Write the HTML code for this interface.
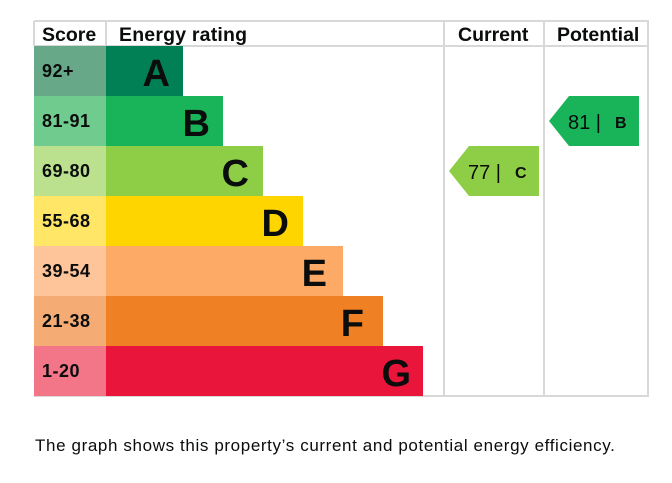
<!DOCTYPE html>
<html><head><style>
body{margin:0;background:#fff;width:672px;height:483px;overflow:hidden}
svg{position:absolute;left:0;top:0}
.c{position:absolute;left:35px;top:436px;font:17px "Liberation Sans",sans-serif;letter-spacing:0.62px;color:#0b0c0c;white-space:nowrap}
</style></head><body>
<svg width="672" height="483" font-family="Liberation Sans, sans-serif">
<g fill="#fff" stroke="#d8d8d8" stroke-width="2">
<line x1="34" y1="21" x2="649" y2="21"/>
<line x1="34" y1="46" x2="649" y2="46"/>
<line x1="34" y1="396" x2="649" y2="396"/>
<line x1="34" y1="21" x2="34" y2="46"/>
<line x1="106" y1="21" x2="106" y2="46"/>
<line x1="444" y1="21" x2="444" y2="396"/>
<line x1="544" y1="21" x2="544" y2="396"/>
<line x1="648" y1="21" x2="648" y2="396"/>
</g>
<g font-weight="bold" font-size="19.5" fill="#0b0c0c">
<text x="42" y="41">Score</text>
<text x="119" y="41" textLength="128">Energy rating</text>
<text x="458" y="41">Current</text>
<text x="557" y="41">Potential</text>
</g>
<rect x="34" y="46" width="72" height="50" fill="#66a888"/><rect x="106" y="46" width="77" height="50" fill="#008054"/>
<rect x="34" y="96" width="72" height="50" fill="#70cb8f"/><rect x="106" y="96" width="117" height="50" fill="#19b459"/>
<rect x="34" y="146" width="72" height="50" fill="#bbe08e"/><rect x="106" y="146" width="157" height="50" fill="#8dce46"/>
<rect x="34" y="196" width="72" height="50" fill="#ffe667"/><rect x="106" y="196" width="197" height="50" fill="#ffd500"/>
<rect x="34" y="246" width="72" height="50" fill="#fec59b"/><rect x="106" y="246" width="237" height="50" fill="#fcaa65"/>
<rect x="34" y="296" width="72" height="50" fill="#f4ac74"/><rect x="106" y="296" width="277" height="50" fill="#ef8023"/>
<rect x="34" y="346" width="72" height="50" fill="#f27588"/><rect x="106" y="346" width="317" height="50" fill="#e9153b"/>
<g font-weight="bold" font-size="18" fill="#0b0c0c" letter-spacing="0.5">
<text x="42" y="77">92+</text><text x="42" y="127">81-91</text><text x="42" y="177">69-80</text>
<text x="42" y="227">55-68</text><text x="42" y="277">39-54</text><text x="42" y="327">21-38</text><text x="42" y="377">1-20</text>
</g>
<g font-weight="bold" font-size="38" fill="#0b0c0c" text-anchor="end">
<text x="170" y="86">A</text><text x="210" y="136">B</text><text x="249" y="186">C</text>
<text x="289" y="236">D</text><text x="327" y="286">E</text><text x="364" y="336">F</text><text x="411" y="386">G</text>
</g>
<polygon points="449,171 469,146 539,146 539,196 469,196" fill="#8dce46"/>
<text x="468" y="179" font-size="20" fill="#0b0c0c">77 |</text>
<text x="515" y="178" font-size="16" font-weight="bold" fill="#0b0c0c">C</text>
<polygon points="549,121 569,96 639,96 639,146 569,146" fill="#19b459"/>
<text x="568" y="129" font-size="20" fill="#0b0c0c">81 |</text>
<text x="615" y="128" font-size="16" font-weight="bold" fill="#0b0c0c">B</text>
</svg>
<div class="c">The graph shows this property’s current and potential energy efficiency.</div>
</body></html>
